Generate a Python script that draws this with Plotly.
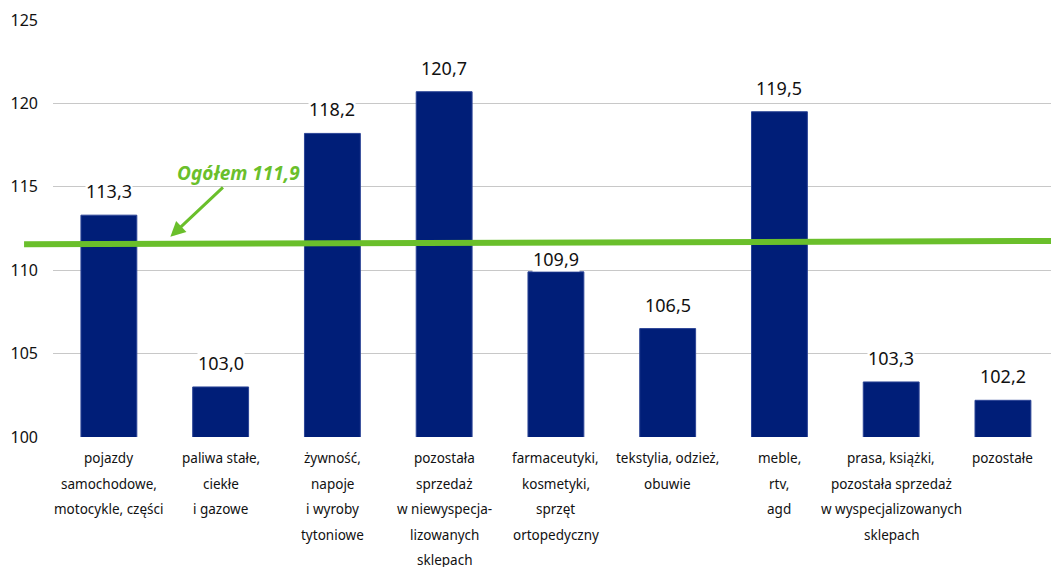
import plotly.graph_objects as go

categories = [
    "pojazdy<br>samochodowe,<br>motocykle, części",
    "paliwa stałe,<br>ciekłe<br>i gazowe",
    "żywność,<br>napoje<br>i wyroby<br>tytoniowe",
    "pozostała<br>sprzedaż<br>w niewyspecja-<br>lizowanych<br>sklepach",
    "farmaceutyki,<br>kosmetyki,<br>sprzęt<br>ortopedyczny",
    "tekstylia, odzież,<br>obuwie",
    "meble,<br>rtv,<br>agd",
    "prasa, książki,<br>pozostała sprzedaż<br>w wyspecjalizowanych<br>sklepach",
    "pozostałe",
]
values = [113.3, 103.0, 118.2, 120.7, 109.9, 106.5, 119.5, 103.3, 102.2]
y_ticks = [100, 105, 110, 115, 120, 125]
overall_label = "Ogółem 111,9"
overall_line_y = [111.55, 111.75]   # line as drawn (left, right)

FONT = "Noto Sans"
NAVY = "#001e78"
GREEN = "#6abf2b"

x = list(range(len(categories)))

fig = go.Figure()
fig.add_trace(go.Bar(
    x=x, y=values, width=0.5,
    marker=dict(color=NAVY, line=dict(color="#2b4496", width=1)),
    hoverinfo="skip",
))

annotations = []
for i, (xi, v) in enumerate(zip(x, values)):
    shift = 0 if i == 4 else 11   # label of 109,9 sits closer to its bar (below the line)
    annotations.append(dict(
        x=xi, y=v, xref="x", yref="y", text=f"{v:.1f}".replace(".", ","),
        showarrow=False, yanchor="bottom", yshift=shift,
        font=dict(family=FONT, size=18, color="#111111"),
        bgcolor="white", borderpad=0,
    ))

# category labels, one annotation per line for wide line spacing
for xi, cat in zip(x, categories):
    for li, line in enumerate(cat.split("<br>")):
        annotations.append(dict(
            x=xi, y=0, xref="x", yref="paper", text=line,
            showarrow=False, yanchor="middle", yshift=-21 - li * 25.5,
            font=dict(family=FONT, size=13.5, color="#111111"),
        ))

# overall label with arrow
annotations.append(dict(
    x=0.55, y=112.0, xref="x", yref="y", text=f"<b><i>{overall_label}</i></b>",
    showarrow=True, arrowhead=2, arrowsize=1, arrowwidth=3, arrowcolor=GREEN,
    ax=68, ay=-64, font=dict(family=FONT, size=19, color=GREEN),
))

fig.update_layout(
    width=1051, height=567,
    margin=dict(l=53, r=0, t=20, b=130),
    paper_bgcolor="white", plot_bgcolor="white",
    showlegend=False,
    xaxis=dict(range=[-0.5, 8.43], showticklabels=False, showgrid=False,
               zeroline=False, fixedrange=True),
    yaxis=dict(range=[100, 125], tickvals=y_ticks,
               ticktext=[str(t) for t in y_ticks],
               showgrid=True, gridcolor="#c8c8c8", gridwidth=1,
               zeroline=False, showline=False, ticklabelstandoff=14,
               tickfont=dict(family=FONT, size=16, color="#111111")),
    annotations=annotations,
    shapes=[dict(
        type="line", xref="paper", yref="y",
        x0=-0.029, x1=1.0, y0=overall_line_y[0], y1=overall_line_y[1],
        line=dict(color=GREEN, width=6), layer="above",
    )],
)

fig.write_html("out.html", config={"displayModeBar": False},
               post_script="document.body.style.margin='0';")
